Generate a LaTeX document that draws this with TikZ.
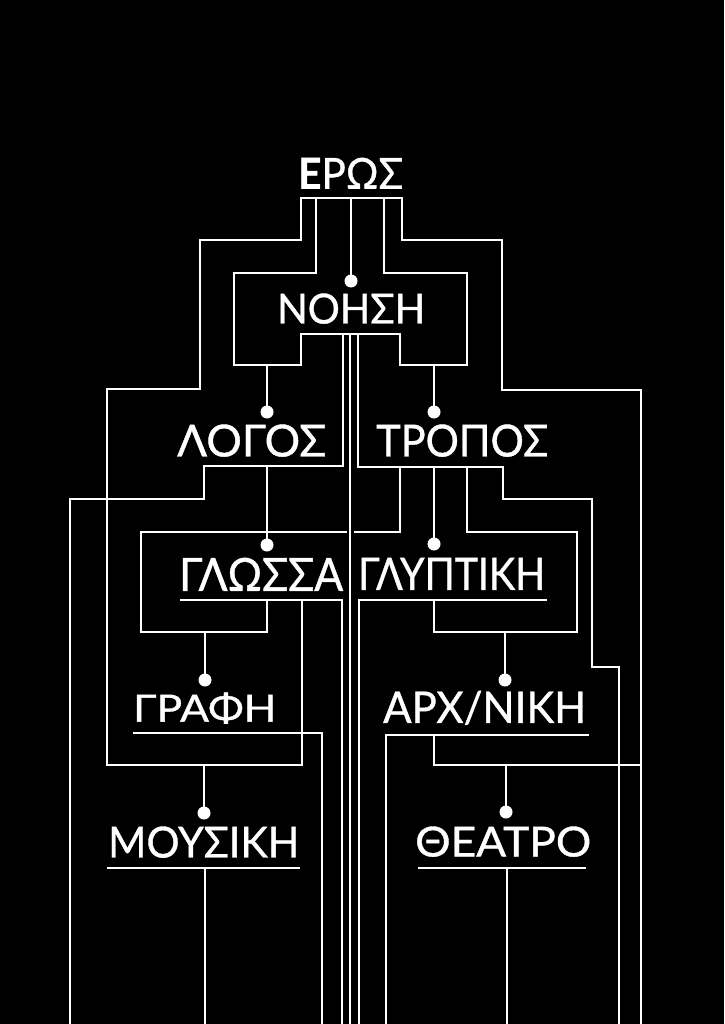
\documentclass[tikz,border=0pt]{standalone}
\usepackage{fontspec}
\usepackage{graphicx}
\setmainfont{Lato}
\newfontfamily\lblfont{Lato}[FakeBold=0.9]
\tikzset{
  wire/.style={draw=white, line width=2.6pt},
  lbl/.style={anchor=south west, inner sep=0pt, text=white, font=\lblfont\fontsize{43}{43}\selectfont},
  dotnode/.style={circle, fill=white, inner sep=0pt, minimum size=13pt}
}
\begin{document}
\begin{tikzpicture}[x=1pt,y=-1pt]
\fill[black] (0,0) rectangle (724,1024);
\useasboundingbox (0,0) rectangle (724,1024);

% labels
\node[lbl] (eros)  at (298,189) {\resizebox{105pt}{31pt}{\textbf{Ε}ΡΩΣ}};
\node[lbl] (noisi) at (277,324) {\resizebox{148pt}{30pt}{ΝΟΗΣΗ}};
\node[lbl] (logos) at (177,457) {\resizebox{149pt}{32pt}{ΛΟΓΟΣ}};
\node[lbl] (tropos) at (376,457) {\resizebox{172pt}{32pt}{ΤΡΟΠΟΣ}};
\node[lbl] (glossa) at (179,591) {\resizebox{164pt}{33pt}{ΓΛΩΣΣΑ}};
\node[lbl] (glyptiki) at (358,590) {\resizebox{187pt}{32pt}{ΓΛΥΠΤΙΚΗ}};
\node[lbl] (grafi) at (133,724) {\resizebox{143pt}{29pt}{ΓΡΑΦΗ}};
\node[lbl] (arch) at (383,725) {\resizebox{203pt}{32pt}{ΑΡΧ/ΝΙΚΗ}};
\node[lbl] (mousiki) at (108,858) {\resizebox{191pt}{31pt}{ΜΟΥΣΙΚΗ}};
\node[lbl] (theatro) at (415,857) {\resizebox{176pt}{30pt}{ΘΕΑΤΡΟ}};

% dots
\node[dotnode] (dNoisi) at (351,281) {};
\node[dotnode] (dLogos) at (267,412) {};
\node[dotnode] (dTropos) at (434,412) {};
\node[dotnode] (dGlossa) at (267,545) {};
\node[dotnode] (dGlyptiki) at (434,544) {};
\node[dotnode] (dGrafi) at (205,680) {};
\node[dotnode] (dArch) at (505,680) {};
\node[dotnode] (dMousiki) at (204,813) {};
\node[dotnode] (dTheatro) at (506,812) {};

% ERWS bar and outer branches
\draw[wire] (302,600) -- (302,765) -- (107,765) -- (107,389) -- (200,389) -- (200,240) -- (301,240) -- (301,198) -- (402,198) -- (402,240) -- (502,240) -- (502,390) -- (641,390) -- (641,1024);
\draw[wire] (351,198) -- (dNoisi.center);
% NOHSH frame
\draw[wire] (316,198) -- (316,273) -- (234,273) -- (234,365) -- (301,365) -- (301,334) -- (400,334) -- (400,365) -- (467,365) -- (467,273) -- (384,273) -- (384,198);
\draw[wire] (267,365) -- (dLogos.center);
\draw[wire] (434,365) -- (dTropos.center);
% central lines
\draw[wire] (350,334) -- (350,1024);
\draw[wire] (343,334) -- (343,466) -- (204,466) -- (204,499) -- (70,499) -- (70,1024);
\draw[wire] (358,334) -- (358,467) -- (503,467) -- (503,499) -- (592,499) -- (592,667) -- (619,667) -- (619,1024);
% LOGOS -> GLOSSA
\draw[wire] (267,466) -- (dGlossa.center);
% TROPOS branches
\draw[wire] (434,467) -- (dGlyptiki.center);
\draw[wire] (400,467) -- (400,532) -- (354,532);
\draw[wire] (347,532) -- (141,532) -- (141,632) -- (267,632) -- (267,600);
\draw[wire] (467,467) -- (467,532) -- (577,532) -- (577,632) -- (434,632) -- (434,600);
% GLOSSA underline
\draw[wire] (180,600) -- (342,600) -- (342,1024);
% GLYPTIKI underline
\draw[wire] (547,600) -- (359,600) -- (359,1024);
\draw[wire] (205,632) -- (dGrafi.center);
\draw[wire] (505,632) -- (dArch.center);
% GRAFI underline
\draw[wire] (133,733) -- (322,733) -- (322,1024);
% ARX/NIKH underline
\draw[wire] (589,735) -- (386,735) -- (386,1024);
\draw[wire] (434,735) -- (434,765) -- (641,765);
\draw[wire] (204,765) -- (dMousiki.center);
\draw[wire] (506,765) -- (dTheatro.center);
% MOUSIKI underline
\draw[wire] (107,868) -- (300,868);
\draw[wire] (205,868) -- (205,1024);
% THEATRO underline
\draw[wire] (418,868) -- (586,868);
\draw[wire] (507,868) -- (507,1024);
\end{tikzpicture}
\end{document}
